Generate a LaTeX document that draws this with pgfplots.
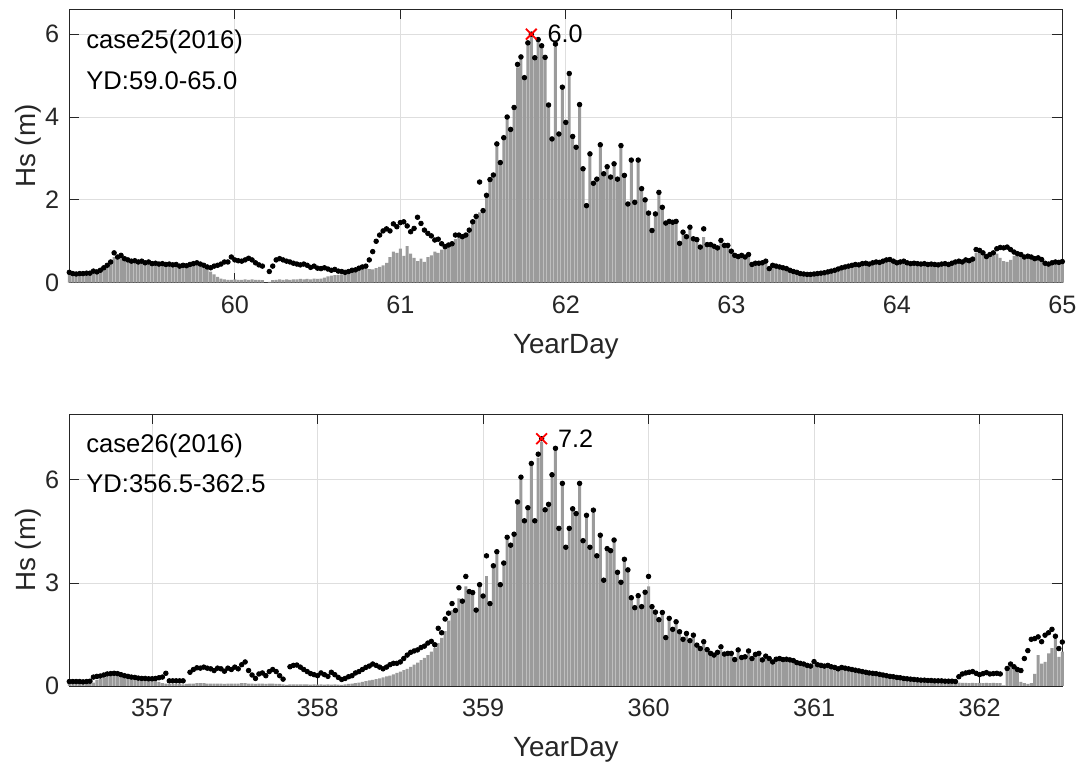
\documentclass[border=0pt]{standalone}
\usepackage{fontspec}
\setmainfont{Liberation Sans}
\usepackage{pgfplots}
\usepackage{pgfplotstable}
\pgfplotsset{compat=1.18}
\definecolor{bargray}{RGB}{155,155,155}
\definecolor{axgray}{RGB}{38,38,38}
\definecolor{gridgray}{RGB}{222,222,222}

% top panel: d = Hs dots, b = gray bars (half-hourly from YD 59.0)
\pgfplotstableread[row sep=\\]{
d b\\
0.25 0.21\\ 0.22 0.19\\ 0.21 0.18\\ 0.22 0.19\\ 0.22 0.19\\ 0.23 0.20\\ 0.23 0.20\\ 0.28 0.24\\
0.26 0.23\\ 0.30 0.26\\ 0.36 0.31\\ 0.42 0.37\\ 0.50 0.45\\ 0.72 0.62\\ 0.62 0.60\\ 0.66 0.61\\
0.58 0.55\\ 0.55 0.51\\ 0.52 0.49\\ 0.53 0.49\\ 0.50 0.47\\ 0.52 0.48\\ 0.48 0.45\\ 0.50 0.46\\
0.46 0.43\\ 0.47 0.43\\ 0.45 0.42\\ 0.46 0.42\\ 0.44 0.41\\ 0.45 0.41\\ 0.43 0.40\\ 0.44 0.40\\
0.40 0.37\\ 0.42 0.38\\ 0.41 0.38\\ 0.44 0.40\\ 0.46 0.42\\ 0.48 0.44\\ 0.45 0.42\\ 0.42 0.38\\
0.38 0.33\\ 0.36 0.27\\ 0.40 0.20\\ 0.42 0.14\\ 0.45 0.10\\ 0.50 0.08\\ 0.50 0.07\\ 0.62 0.07\\
0.55 0.08\\ 0.53 0.07\\ 0.52 0.07\\ 0.55 0.08\\ 0.59 0.07\\ 0.55 0.08\\ 0.48 0.07\\ 0.43 0.07\\
0.40 0.06\\ nan 0.00\\ 0.27 0.02\\ 0.40 0.06\\ 0.55 0.07\\ 0.58 0.08\\ 0.55 0.07\\ 0.52 0.08\\
0.50 0.07\\ 0.47 0.08\\ 0.45 0.08\\ 0.43 0.09\\ 0.45 0.08\\ 0.42 0.09\\ 0.37 0.08\\ 0.40 0.10\\
0.35 0.09\\ 0.34 0.10\\ 0.36 0.12\\ 0.33 0.15\\ 0.30 0.17\\ 0.32 0.18\\ 0.28 0.19\\ 0.27 0.20\\
0.25 0.21\\ 0.27 0.22\\ 0.30 0.28\\ 0.31 0.29\\ 0.35 0.32\\ 0.38 0.33\\ 0.40 0.34\\ 0.55 0.33\\
0.75 0.32\\ 1.00 0.35\\ 1.15 0.38\\ 1.25 0.42\\ 1.30 0.48\\ 1.25 0.62\\ 1.42 0.75\\ 1.35 0.72\\
1.45 0.82\\ 1.47 0.65\\ 1.37 0.88\\ 1.23 0.70\\ 1.31 0.60\\ 1.58 0.52\\ 1.43 0.58\\ 1.27 0.50\\
1.19 0.62\\ 1.13 0.66\\ 1.03 0.75\\ 1.05 0.72\\ 0.94 0.80\\ 0.87 0.82\\ 0.91 0.86\\ 0.94 0.90\\
1.15 1.05\\ 1.15 1.10\\ 1.11 1.08\\ 1.15 1.12\\ 1.27 1.25\\ 1.47 1.45\\ 1.60 1.58\\ 2.43 1.70\\
1.74 1.72\\ 2.11 2.08\\ 2.49 2.45\\ 2.60 2.58\\ 3.35 3.30\\ 2.90 2.88\\ 3.50 3.45\\ 4.00 3.95\\
3.70 3.68\\ 4.23 4.20\\ 5.27 5.20\\ 5.45 5.40\\ 4.95 4.92\\ 5.79 5.75\\ 6.00 5.95\\ 5.43 5.40\\
5.87 5.85\\ 5.72 5.70\\ 5.44 5.40\\ 4.29 4.25\\ 3.47 3.45\\ 5.76 5.70\\ 3.59 3.55\\ 4.72 4.70\\
3.87 3.85\\ 5.05 5.00\\ 3.53 3.50\\ 3.27 3.25\\ 4.30 4.25\\ 2.75 2.72\\ 1.86 1.84\\ 3.11 3.08\\
2.40 2.38\\ 2.50 2.48\\ 3.33 3.30\\ 2.63 2.60\\ 2.80 2.78\\ 2.55 2.52\\ 2.87 2.85\\ 2.50 2.48\\
3.31 3.28\\ 2.59 2.56\\ 1.90 1.88\\ 2.96 2.93\\ 1.94 1.92\\ 2.96 2.93\\ 2.27 2.25\\ 2.00 1.98\\
1.68 1.66\\ 1.26 1.24\\ 1.66 1.64\\ 2.18 2.15\\ 1.82 1.80\\ 1.44 1.42\\ 1.48 1.46\\ 1.46 1.44\\
1.48 1.46\\ 0.95 0.93\\ 1.22 1.20\\ 1.11 1.09\\ 1.34 1.31\\ 1.06 1.04\\ 1.04 1.02\\ 0.86 0.84\\
1.30 1.10\\ 0.92 0.90\\ 0.92 0.90\\ 0.88 0.86\\ 0.84 0.82\\ 1.02 0.95\\ 0.90 0.88\\ 0.90 0.88\\
0.76 0.74\\ 0.66 0.64\\ 0.63 0.61\\ 0.66 0.64\\ 0.62 0.60\\ 0.68 0.62\\ 0.44 0.42\\ 0.47 0.44\\
0.47 0.45\\ 0.48 0.45\\ 0.52 0.46\\ 0.34 0.32\\ 0.42 0.38\\ 0.40 0.37\\ 0.38 0.35\\ 0.36 0.33\\
0.34 0.31\\ 0.30 0.28\\ 0.27 0.25\\ 0.25 0.23\\ 0.22 0.20\\ 0.21 0.19\\ 0.20 0.18\\ 0.20 0.18\\
0.21 0.19\\ 0.22 0.20\\ 0.23 0.21\\ 0.24 0.22\\ 0.26 0.24\\ 0.28 0.26\\ 0.30 0.28\\ 0.33 0.30\\
0.36 0.33\\ 0.38 0.35\\ 0.40 0.37\\ 0.42 0.39\\ 0.44 0.41\\ 0.43 0.40\\ 0.46 0.43\\ 0.47 0.44\\
0.45 0.42\\ 0.48 0.45\\ 0.50 0.46\\ 0.49 0.45\\ 0.52 0.48\\ 0.55 0.50\\ 0.56 0.52\\ 0.52 0.48\\
0.48 0.45\\ 0.50 0.46\\ 0.52 0.48\\ 0.48 0.45\\ 0.46 0.43\\ 0.47 0.44\\ 0.46 0.43\\ 0.45 0.42\\
0.46 0.43\\ 0.44 0.41\\ 0.45 0.42\\ 0.44 0.41\\ 0.43 0.40\\ 0.45 0.42\\ 0.46 0.43\\ 0.44 0.41\\
0.47 0.44\\ 0.50 0.46\\ 0.52 0.48\\ 0.50 0.47\\ 0.55 0.50\\ 0.53 0.50\\ 0.57 0.53\\ 0.80 0.72\\
0.78 0.74\\ 0.72 0.68\\ 0.63 0.60\\ 0.68 0.64\\ 0.72 0.66\\ 0.82 0.70\\ 0.85 0.60\\ 0.84 0.52\\
0.86 0.50\\ 0.80 0.55\\ 0.74 0.65\\ 0.70 0.66\\ 0.68 0.64\\ 0.62 0.59\\ 0.64 0.60\\ 0.62 0.58\\
0.58 0.55\\ 0.60 0.56\\ 0.56 0.52\\ 0.47 0.44\\ 0.45 0.42\\ 0.48 0.45\\ 0.50 0.46\\ 0.49 0.46\\
0.51 0.47\\
}\topdata

% bottom panel: half-hourly from YD 356.5
\pgfplotstableread[row sep=\\]{
d b\\
0.13 0.08\\ 0.13 0.08\\ 0.13 0.08\\ 0.13 0.08\\ 0.12 0.08\\ 0.13 0.08\\ 0.14 0.09\\ 0.26 0.10\\
0.28 0.18\\ 0.29 0.20\\ 0.32 0.24\\ 0.35 0.27\\ 0.36 0.30\\ 0.37 0.32\\ 0.36 0.32\\ 0.33 0.30\\
0.30 0.27\\ 0.28 0.25\\ 0.26 0.23\\ 0.25 0.22\\ 0.23 0.21\\ 0.22 0.20\\ 0.22 0.19\\ 0.21 0.19\\
0.21 0.18\\ 0.22 0.17\\ 0.24 0.12\\ 0.26 0.08\\ 0.37 0.07\\ 0.15 0.06\\ 0.15 0.06\\ 0.15 0.06\\
0.15 0.06\\ 0.15 0.05\\ nan 0.06\\ 0.40 0.07\\ 0.48 0.07\\ 0.53 0.08\\ 0.52 0.08\\ 0.55 0.08\\
0.52 0.07\\ 0.50 0.07\\ 0.45 0.07\\ 0.52 0.07\\ 0.50 0.07\\ 0.43 0.06\\ 0.52 0.07\\ 0.48 0.07\\
0.55 0.07\\ 0.50 0.07\\ 0.62 0.08\\ 0.70 0.08\\ 0.45 0.07\\ 0.32 0.07\\ 0.22 0.06\\ 0.35 0.07\\
0.38 0.07\\ 0.30 0.06\\ 0.42 0.07\\ 0.48 0.07\\ 0.42 0.06\\ 0.30 0.06\\ 0.20 0.05\\ nan 0.03\\
0.56 0.05\\ 0.60 0.05\\ 0.61 0.05\\ 0.55 0.05\\ 0.48 0.05\\ 0.42 0.05\\ 0.36 0.04\\ 0.33 0.05\\
0.30 0.04\\ 0.38 0.05\\ 0.33 0.04\\ 0.28 0.05\\ 0.40 0.04\\ 0.33 0.05\\ 0.25 0.04\\ 0.19 0.03\\
0.22 0.05\\ 0.27 0.06\\ 0.30 0.07\\ 0.38 0.08\\ 0.42 0.10\\ 0.48 0.12\\ 0.54 0.14\\ 0.58 0.16\\
0.64 0.18\\ 0.60 0.20\\ 0.55 0.22\\ 0.50 0.25\\ 0.55 0.28\\ 0.62 0.30\\ 0.66 0.34\\ 0.66 0.38\\
0.70 0.42\\ 0.80 0.46\\ 0.90 0.50\\ 0.98 0.56\\ 1.02 0.62\\ 1.05 0.68\\ 1.12 0.75\\ 1.16 0.82\\
1.25 0.90\\ 1.30 1.00\\ 1.20 1.10\\ 1.68 1.25\\ 1.55 1.40\\ 1.95 1.60\\ 2.12 1.90\\ 2.40 2.20\\
2.20 2.15\\ 2.86 2.55\\ 2.47 2.45\\ 3.19 2.90\\ 2.75 2.72\\ 2.72 2.70\\ 2.21 2.19\\ 2.95 2.90\\
2.62 2.60\\ 3.79 3.20\\ 2.40 2.38\\ 3.50 3.45\\ 3.91 3.85\\ 2.95 2.93\\ 3.58 3.55\\ 4.33 4.25\\
4.10 4.05\\ 4.42 4.38\\ 5.36 5.30\\ 6.08 6.00\\ 4.81 4.78\\ 5.19 5.15\\ 6.48 6.40\\ 4.81 4.78\\
6.75 6.65\\ 7.20 7.10\\ 5.13 5.10\\ 5.29 5.25\\ 6.15 6.10\\ 6.92 6.85\\ 4.59 4.55\\ 5.90 5.85\\
4.04 4.00\\ 4.59 4.55\\ 5.16 5.10\\ 5.02 4.98\\ 5.90 5.85\\ 4.23 4.20\\ 4.97 4.92\\ 4.04 4.00\\
5.12 5.05\\ 3.79 3.75\\ 4.39 4.35\\ 3.08 3.05\\ 4.00 3.95\\ 3.94 3.90\\ 4.25 4.20\\ 3.31 3.28\\
3.02 3.00\\ 3.69 3.65\\ 3.38 3.35\\ 2.57 2.55\\ 2.28 2.25\\ 2.63 2.60\\ 2.31 2.28\\ 2.73 2.70\\
3.19 2.90\\ 2.31 2.28\\ 2.15 2.12\\ 1.93 1.90\\ 2.14 2.10\\ 1.41 1.39\\ 1.97 1.94\\ 1.65 1.62\\
1.87 1.84\\ 1.58 1.55\\ 1.36 1.34\\ 1.53 1.50\\ 1.32 1.30\\ 1.48 1.45\\ 1.19 1.17\\ 1.09 1.07\\
1.29 1.26\\ 1.06 1.04\\ 0.95 0.93\\ 0.90 0.88\\ 0.98 0.96\\ 1.14 1.05\\ 0.93 0.91\\ 0.95 0.93\\
0.95 0.93\\ 0.77 0.75\\ 1.05 0.98\\ 0.83 0.81\\ 0.85 0.83\\ 1.02 0.95\\ 0.80 0.78\\ 0.92 0.90\\
0.95 0.92\\ 0.76 0.74\\ 0.87 0.85\\ 0.80 0.78\\ 0.70 0.68\\ 0.78 0.76\\ 0.80 0.77\\ 0.77 0.75\\
0.78 0.75\\ 0.76 0.74\\ 0.74 0.72\\ 0.68 0.66\\ 0.66 0.64\\ 0.64 0.62\\ 0.60 0.58\\ 0.58 0.56\\
0.71 0.62\\ 0.62 0.60\\ 0.60 0.58\\ 0.58 0.56\\ 0.60 0.57\\ 0.56 0.54\\ 0.54 0.52\\ 0.50 0.48\\
0.54 0.51\\ 0.52 0.50\\ 0.50 0.48\\ 0.48 0.46\\ 0.46 0.44\\ 0.44 0.42\\ 0.42 0.40\\ 0.40 0.38\\
0.38 0.36\\ 0.37 0.35\\ 0.36 0.34\\ 0.34 0.32\\ 0.32 0.30\\ 0.30 0.28\\ 0.28 0.26\\ 0.27 0.25\\
0.25 0.23\\ 0.24 0.22\\ 0.22 0.20\\ 0.21 0.19\\ 0.20 0.18\\ 0.19 0.17\\ 0.18 0.16\\ 0.17 0.15\\
0.17 0.15\\ 0.16 0.14\\ 0.16 0.14\\ 0.15 0.13\\ 0.15 0.13\\ 0.15 0.13\\ 0.14 0.12\\ 0.14 0.12\\
0.14 0.12\\ 0.13 0.11\\ 0.27 0.10\\ 0.35 0.09\\ 0.38 0.09\\ 0.40 0.08\\ 0.42 0.09\\ 0.37 0.08\\
0.33 0.09\\ 0.36 0.08\\ 0.39 0.09\\ 0.35 0.08\\ 0.36 0.09\\ 0.37 0.08\\ 0.35 0.08\\ nan 0.02\\
0.51 0.48\\ 0.64 0.62\\ 0.56 0.54\\ 0.48 0.45\\ 0.45 0.12\\ 0.80 0.08\\ 1.03 0.06\\ 1.36 0.08\\
1.38 0.35\\ 1.43 0.90\\ 1.29 0.65\\ 1.48 0.70\\ 1.55 0.95\\ 1.65 1.10\\ 1.45 1.40\\ 1.09 0.85\\
1.28 1.00\\
}\botdata

\pgfplotsset{hsaxis/.style={
  scale only axis, width=496.5pt,
  axis line style={axgray, line width=0.45pt},
  tick style={axgray, line width=0.45pt},
  tick align=inside, major tick length=5pt,
  xmajorgrids, ymajorgrids,
  major grid style={gridgray, line width=0.45pt},
  ticklabel style={font=\fontsize{12.6}{14}\selectfont, text=axgray},
  label style={font=\fontsize{13.9}{16}\selectfont, text=axgray},
  /pgf/number format/assume math mode=true,
  yticklabel style={xshift=-1.5pt},
  xticklabel style={yshift=-3pt},
  xlabel style={at={([yshift=-32pt]axis description cs:0.5,0)}, anchor=center},
  ylabel style={at={([xshift=-20.7pt]axis description cs:0,0.5)}, anchor=center},
  clip=false,
}}

\begin{document}
\begin{tikzpicture}
\path[use as bounding box] (0,0) rectangle (540.5pt,384.5pt);

\begin{axis}[hsaxis,
  at={(34.65pt,243.15pt)}, anchor=south west, height=136.7pt,
  xmin=59, xmax=65, ymin=0, ymax=6.6,
  xtick={60,61,62,63,64,65}, ytick={0,2,4,6},
  xlabel={YearDay}, ylabel={Hs (m)}]
\addplot[ybar, bar width=0.018, bar shift=0pt, fill=bargray, draw=none]
  table[x expr=59+\coordindex/48, y=b]{\topdata};
\addplot[only marks, mark=*, mark size=1.15pt, black]
  table[x expr=59+\coordindex/48, y=d]{\topdata};
\addplot[only marks, mark=x, mark size=3.8pt, red, mark options={line width=0.9pt}]
  coordinates {(61.7917,6.0)};
\node[anchor=west, inner sep=0pt, font=\fontsize{12.6}{14}\selectfont] at ([xshift=8pt]axis cs:61.7917,6.0) {6.0};
\node[anchor=west, inner sep=0pt, font=\fontsize{12.8}{15}\selectfont] at ([xshift=8.35pt,yshift=-16.5pt]rel axis cs:0,1) {case25(2016)};
\node[anchor=west, inner sep=0pt, font=\fontsize{12.8}{15}\selectfont] at ([xshift=8.35pt,yshift=-35.5pt]rel axis cs:0,1) {YD:59.0-65.0};
\end{axis}

\begin{axis}[hsaxis,
  at={(34.65pt,41.5pt)}, anchor=south west, height=136pt,
  xmin=356.5, xmax=362.5, ymin=0, ymax=7.92,
  xtick={357,358,359,360,361,362}, ytick={0,3,6},
  xlabel={YearDay}, ylabel={Hs (m)}]
\addplot[ybar, bar width=0.018, bar shift=0pt, fill=bargray, draw=none]
  table[x expr=356.5+\coordindex/48, y=b]{\botdata};
\addplot[only marks, mark=*, mark size=1.15pt, black]
  table[x expr=356.5+\coordindex/48, y=d]{\botdata};
\addplot[only marks, mark=x, mark size=3.8pt, red, mark options={line width=0.9pt}]
  coordinates {(359.3542,7.2)};
\node[anchor=west, inner sep=0pt, font=\fontsize{12.6}{14}\selectfont] at ([xshift=8pt]axis cs:359.3542,7.2) {7.2};
\node[anchor=west, inner sep=0pt, font=\fontsize{12.8}{15}\selectfont] at ([xshift=8.35pt,yshift=-16pt]rel axis cs:0,1) {case26(2016)};
\node[anchor=west, inner sep=0pt, font=\fontsize{12.8}{15}\selectfont] at ([xshift=8.35pt,yshift=-35pt]rel axis cs:0,1) {YD:356.5-362.5};
\end{axis}
\end{tikzpicture}
\end{document}
